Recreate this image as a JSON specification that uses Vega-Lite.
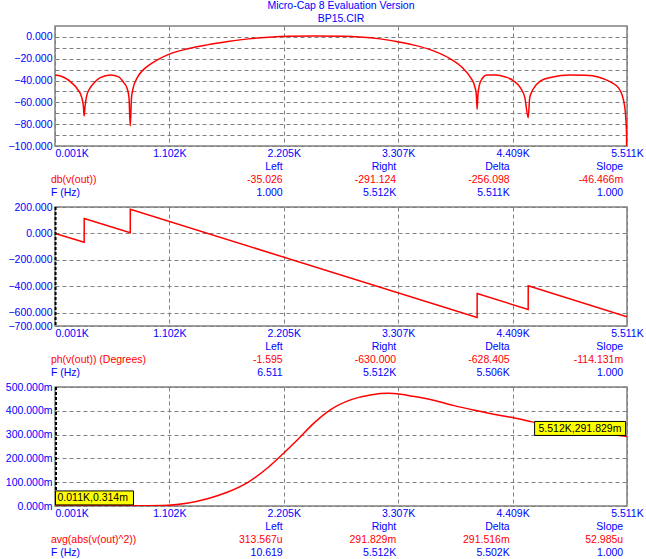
{
  "$schema": "https://vega.github.io/schema/vega-lite/v6.json",
  "background": "white",
  "padding": {"left": 4, "top": 0, "right": 0, "bottom": 0},
  "bounds": "flush",
  "spacing": 0,
  "resolve": {"scale": {"x": "independent", "y": "independent", "color": "independent"}},
  "config": {
    "font": "Liberation Sans",
    "view": {"stroke": null},
    "axis": {"labelFont": "Liberation Sans", "labelFontSize": 10.5, "labelColor": "#0000FF", "domain": false, "ticks": false, "tickSize": 0, "gridColor": "#808080", "gridDash": [4, 3], "gridWidth": 1, "gridOpacity": 1, "labelPadding": 3, "labelOverlap": false, "labelFlush": false},
    "axisX": {"labelPadding": 2},
    "text": {"font": "Liberation Sans", "fontSize": 10.5}
  },
  "datasets": {
    "mag": [
      {"F": 1, "dB": -35.026}, {"F": 80, "dB": -36.7}, {"F": 160, "dB": -41.9}, {"F": 219, "dB": -48}, {"F": 259, "dB": -55.7}, {"F": 275, "dB": -64}, {"F": 282, "dB": -72.5}, {"F": 290, "dB": -64}, {"F": 306, "dB": -54}, {"F": 338, "dB": -47}, {"F": 378, "dB": -42}, {"F": 437, "dB": -37.3}, {"F": 536, "dB": -34.9}, {"F": 615, "dB": -36.7}, {"F": 663, "dB": -41.9}, {"F": 695, "dB": -47}, {"F": 714, "dB": -55.7}, {"F": 726, "dB": -81.6}, {"F": 738, "dB": -55.7}, {"F": 754, "dB": -47}, {"F": 794, "dB": -37.3}, {"F": 853, "dB": -30}, {"F": 913, "dB": -25.5}, {"F": 992, "dB": -20.8}, {"F": 1091, "dB": -16.2}, {"F": 1270, "dB": -11.1}, {"F": 1468, "dB": -7.3}, {"F": 1666, "dB": -4.3}, {"F": 1864, "dB": -1.8}, {"F": 2062, "dB": -0.3}, {"F": 2260, "dB": 0.6}, {"F": 2498, "dB": 0.9}, {"F": 2776, "dB": 0.6}, {"F": 2934, "dB": 0}, {"F": 3133, "dB": -1.8}, {"F": 3291, "dB": -4.3}, {"F": 3450, "dB": -7.3}, {"F": 3648, "dB": -12.8}, {"F": 3806, "dB": -19.9}, {"F": 3925, "dB": -28.1}, {"F": 4005, "dB": -37.3}, {"F": 4044, "dB": -45}, {"F": 4060, "dB": -52.6}, {"F": 4068, "dB": -66.4}, {"F": 4076, "dB": -52.6}, {"F": 4103, "dB": -40.4}, {"F": 4163, "dB": -34.9}, {"F": 4242, "dB": -34.9}, {"F": 4341, "dB": -36.7}, {"F": 4421, "dB": -40.4}, {"F": 4488, "dB": -47}, {"F": 4528, "dB": -55.7}, {"F": 4560, "dB": -74}, {"F": 4575, "dB": -55.7}, {"F": 4607, "dB": -48}, {"F": 4678, "dB": -40.4}, {"F": 4797, "dB": -36.7}, {"F": 4956, "dB": -34.9}, {"F": 5114, "dB": -35.2}, {"F": 5234, "dB": -36.7}, {"F": 5352, "dB": -41.3}, {"F": 5432, "dB": -47}, {"F": 5480, "dB": -58.7}, {"F": 5500, "dB": -74}, {"F": 5508, "dB": -90}, {"F": 5512, "dB": -291.124}
    ],
    "phase": [
      {"F": 1, "deg": -0.2}, {"F": 282, "deg": -67}, {"F": 282.5, "deg": 112}, {"F": 726, "deg": 6}, {"F": 726.5, "deg": 182}, {"F": 4068, "deg": -635}, {"F": 4068.5, "deg": -455}, {"F": 4560, "deg": -575}, {"F": 4560.5, "deg": -395}, {"F": 5512, "deg": -630}
    ],
    "avg": [
      {"F": 1, "v": 0}, {"F": 10.619, "v": 0.000314}, {"F": 500, "v": 0.0003}, {"F": 800, "v": 0.0008}, {"F": 1091, "v": 0.0028}, {"F": 1270, "v": 0.0112}, {"F": 1468, "v": 0.0307}, {"F": 1666, "v": 0.0587}, {"F": 1864, "v": 0.1006}, {"F": 2062, "v": 0.1648}, {"F": 2201, "v": 0.2207}, {"F": 2340, "v": 0.2793}, {"F": 2498, "v": 0.3492}, {"F": 2657, "v": 0.405}, {"F": 2855, "v": 0.4469}, {"F": 3053, "v": 0.4679}, {"F": 3212, "v": 0.4735}, {"F": 3331, "v": 0.4693}, {"F": 3450, "v": 0.4609}, {"F": 3648, "v": 0.4441}, {"F": 3846, "v": 0.4218}, {"F": 4044, "v": 0.4022}, {"F": 4242, "v": 0.3841}, {"F": 4441, "v": 0.3687}, {"F": 4599, "v": 0.3534}, {"F": 5512, "v": 0.291829}
    ],
    "cursors": [
      {"panel": 2, "F": 6.511}, {"panel": 3, "F": 10.619}
    ],
    "notes": [
      {"side": "left", "F": 10.619, "v": 0.000314, "label": "0.011K,0.314m"},
      {"side": "right", "F": 5512, "v": 0.291829, "label": "5.512K,291.829m"}
    ],
    "tables": [
      {"panel": 1, "row": "header", "col": "Left", "text": "Left"},
      {"panel": 1, "row": "header", "col": "Right", "text": "Right"},
      {"panel": 1, "row": "header", "col": "Delta", "text": "Delta"},
      {"panel": 1, "row": "header", "col": "Slope", "text": "Slope"},
      {"panel": 1, "row": "expr", "col": "name", "text": "db(v(out))"},
      {"panel": 1, "row": "expr", "col": "Left", "text": "-35.026"},
      {"panel": 1, "row": "expr", "col": "Right", "text": "-291.124"},
      {"panel": 1, "row": "expr", "col": "Delta", "text": "-256.098"},
      {"panel": 1, "row": "expr", "col": "Slope", "text": "-46.466m"},
      {"panel": 1, "row": "freq", "col": "name", "text": "F (Hz)"},
      {"panel": 1, "row": "freq", "col": "Left", "text": "1.000"},
      {"panel": 1, "row": "freq", "col": "Right", "text": "5.512K"},
      {"panel": 1, "row": "freq", "col": "Delta", "text": "5.511K"},
      {"panel": 1, "row": "freq", "col": "Slope", "text": "1.000"},
      {"panel": 2, "row": "header", "col": "Left", "text": "Left"},
      {"panel": 2, "row": "header", "col": "Right", "text": "Right"},
      {"panel": 2, "row": "header", "col": "Delta", "text": "Delta"},
      {"panel": 2, "row": "header", "col": "Slope", "text": "Slope"},
      {"panel": 2, "row": "expr", "col": "name", "text": "ph(v(out)) (Degrees)"},
      {"panel": 2, "row": "expr", "col": "Left", "text": "-1.595"},
      {"panel": 2, "row": "expr", "col": "Right", "text": "-630.000"},
      {"panel": 2, "row": "expr", "col": "Delta", "text": "-628.405"},
      {"panel": 2, "row": "expr", "col": "Slope", "text": "-114.131m"},
      {"panel": 2, "row": "freq", "col": "name", "text": "F (Hz)"},
      {"panel": 2, "row": "freq", "col": "Left", "text": "6.511"},
      {"panel": 2, "row": "freq", "col": "Right", "text": "5.512K"},
      {"panel": 2, "row": "freq", "col": "Delta", "text": "5.506K"},
      {"panel": 2, "row": "freq", "col": "Slope", "text": "1.000"},
      {"panel": 3, "row": "header", "col": "Left", "text": "Left"},
      {"panel": 3, "row": "header", "col": "Right", "text": "Right"},
      {"panel": 3, "row": "header", "col": "Delta", "text": "Delta"},
      {"panel": 3, "row": "header", "col": "Slope", "text": "Slope"},
      {"panel": 3, "row": "expr", "col": "name", "text": "avg(abs(v(out)^2))"},
      {"panel": 3, "row": "expr", "col": "Left", "text": "313.567u"},
      {"panel": 3, "row": "expr", "col": "Right", "text": "291.829m"},
      {"panel": 3, "row": "expr", "col": "Delta", "text": "291.516m"},
      {"panel": 3, "row": "expr", "col": "Slope", "text": "52.985u"},
      {"panel": 3, "row": "freq", "col": "name", "text": "F (Hz)"},
      {"panel": 3, "row": "freq", "col": "Left", "text": "10.619"},
      {"panel": 3, "row": "freq", "col": "Right", "text": "5.512K"},
      {"panel": 3, "row": "freq", "col": "Delta", "text": "5.502K"},
      {"panel": 3, "row": "freq", "col": "Slope", "text": "1.000"}
    ]
  },
  "vconcat": [
    {
      "width": 572, "height": 120,
      "view": {"stroke": "#808080", "strokeWidth": 1.5},
      "title": {"text": "Micro-Cap 8 Evaluation Version", "subtitle": "BP15.CIR", "color": "#0000FF", "subtitleColor": "#0000FF", "font": "Liberation Sans", "subtitleFont": "Liberation Sans", "fontSize": 10.5, "subtitleFontSize": 10.5, "fontWeight": "normal", "anchor": "middle", "frame": "group", "offset": 2, "subtitlePadding": 2},
      "data": {"name": "mag"},
      "mark": {"type": "line", "color": "#FF0000", "strokeWidth": 1.5, "clip": true, "interpolate": "monotone"},
      "encoding": {
        "x": {"field": "F", "type": "quantitative", "scale": {"domain": [1, 5512], "nice": false, "zero": false},
              "axis": {"title": null, "values": [1, 1102, 2205, 3307, 4409, 5511], "labelExpr": "format(datum.value/1000, '.3f') + 'K'", "grid": true, "labelAlign": {"condition": {"test": "datum.value < 100", "value": "left"}, "value": "center"}}},
        "y": {"field": "dB", "type": "quantitative", "scale": {"domain": [-100, 10], "nice": false, "zero": false},
              "axis": {"title": null, "values": [-100, -90, -80, -70, -60, -50, -40, -30, -20, -10, 0], "labelExpr": "datum.value % 20 === 0 ? format(datum.value, '.3f') : ''", "grid": true}}
      }
    },
    {
      "width": 572, "height": 61,
      "data": {"name": "tables"},
      "transform": [{"filter": "datum.panel === 1"}],
      "encoding": {
        "x": {"field": "col", "type": "nominal", "scale": {"type": "point", "domain": ["name", "gap", "Left", "Right", "Delta", "Slope"], "range": [0.7, 568.2], "padding": 0}, "axis": null},
        "y": {"field": "row", "type": "nominal", "scale": {"type": "point", "domain": ["header", "expr", "freq"], "range": [21, 47], "padding": 0}, "axis": null},
        "color": {"field": "row", "type": "nominal", "scale": {"domain": ["header", "expr", "freq"], "range": ["#0000FF", "#FF0000", "#0000FF"]}, "legend": null},
        "text": {"field": "text", "type": "nominal"}
      },
      "layer": [
        {"transform": [{"filter": "datum.col === 'name'"}], "mark": {"type": "text", "align": "left", "baseline": "middle", "dx": -4.8}},
        {"transform": [{"filter": "datum.col !== 'name'"}], "mark": {"type": "text", "align": "right", "baseline": "middle"}}
      ]
    },
    {
      "width": 572, "height": 119,
      "view": {"stroke": "#808080", "strokeWidth": 1.5},
      "encoding": {
        "x": {"field": "F", "type": "quantitative", "scale": {"domain": [1, 5512], "nice": false, "zero": false},
              "axis": {"title": null, "values": [1, 1102, 2205, 3307, 4409, 5511], "labelExpr": "format(datum.value/1000, '.3f') + 'K'", "grid": true, "labelAlign": {"condition": {"test": "datum.value < 100", "value": "left"}, "value": "center"}}}
      },
      "layer": [
        {
          "data": {"name": "phase"},
          "mark": {"type": "line", "color": "#FF0000", "strokeWidth": 1.5, "clip": true},
          "encoding": {
            "y": {"field": "deg", "type": "quantitative", "scale": {"domain": [-700, 200], "nice": false, "zero": false},
                  "axis": {"title": null, "values": [-700, -600, -400, -200, 0, 200], "format": ".3f", "grid": true}}
          }
        },
        {
          "data": {"name": "cursors"},
          "transform": [{"filter": "datum.panel === 2"}],
          "mark": {"type": "rule", "color": "#000000", "strokeWidth": 2, "strokeDash": [3, 2]},
          "encoding": {}
        }
      ]
    },
    {
      "width": 572, "height": 61,
      "data": {"name": "tables"},
      "transform": [{"filter": "datum.panel === 2"}],
      "encoding": {
        "x": {"field": "col", "type": "nominal", "scale": {"type": "point", "domain": ["name", "gap", "Left", "Right", "Delta", "Slope"], "range": [0.7, 568.2], "padding": 0}, "axis": null},
        "y": {"field": "row", "type": "nominal", "scale": {"type": "point", "domain": ["header", "expr", "freq"], "range": [21, 47], "padding": 0}, "axis": null},
        "color": {"field": "row", "type": "nominal", "scale": {"domain": ["header", "expr", "freq"], "range": ["#0000FF", "#FF0000", "#0000FF"]}, "legend": null},
        "text": {"field": "text", "type": "nominal"}
      },
      "layer": [
        {"transform": [{"filter": "datum.col === 'name'"}], "mark": {"type": "text", "align": "left", "baseline": "middle", "dx": -4.8}},
        {"transform": [{"filter": "datum.col !== 'name'"}], "mark": {"type": "text", "align": "right", "baseline": "middle"}}
      ]
    },
    {
      "width": 572, "height": 119,
      "view": {"stroke": "#808080", "strokeWidth": 1.5},
      "encoding": {
        "x": {"field": "F", "type": "quantitative", "scale": {"domain": [1, 5512], "nice": false, "zero": false},
              "axis": {"title": null, "values": [1, 1102, 2205, 3307, 4409, 5511], "labelExpr": "format(datum.value/1000, '.3f') + 'K'", "grid": true, "labelAlign": {"condition": {"test": "datum.value < 100", "value": "left"}, "value": "center"}}},
        "y": {"field": "v", "type": "quantitative", "scale": {"domain": [0, 0.5], "nice": false, "zero": false},
              "axis": {"title": null, "values": [0, 0.1, 0.2, 0.3, 0.4, 0.5], "labelExpr": "format(datum.value*1000, '.3f') + 'm'", "grid": true}}
      },
      "layer": [
        {
          "data": {"name": "avg"},
          "mark": {"type": "line", "color": "#FF0000", "strokeWidth": 1.5, "clip": true, "interpolate": "monotone"}
        },
        {
          "data": {"name": "cursors"},
          "transform": [{"filter": "datum.panel === 3"}],
          "mark": {"type": "rule", "color": "#000000", "strokeWidth": 2, "strokeDash": [3, 2]},
          "encoding": {"y": null}
        },
        {
          "data": {"name": "notes"},
          "transform": [{"filter": "datum.side === 'left'"}],
          "mark": {"type": "rect", "fill": "#FFFF00", "stroke": "#000000", "strokeWidth": 1, "width": 78, "height": 14, "xOffset": 38.5, "yOffset": -8}
        },
        {
          "data": {"name": "notes"},
          "transform": [{"filter": "datum.side === 'right'"}],
          "mark": {"type": "rect", "fill": "#FFFF00", "stroke": "#000000", "strokeWidth": 1, "width": 91, "height": 14, "xOffset": -46.9, "yOffset": -8.1}
        },
        {
          "data": {"name": "notes"},
          "transform": [{"filter": "datum.side === 'left'"}],
          "mark": {"type": "text", "align": "left", "baseline": "middle", "dx": 1.5, "dy": -8, "color": "#000000"},
          "encoding": {"text": {"field": "label", "type": "nominal"}}
        },
        {
          "data": {"name": "notes"},
          "transform": [{"filter": "datum.side === 'right'"}],
          "mark": {"type": "text", "align": "right", "baseline": "middle", "dx": -5.6, "dy": -8, "color": "#000000"},
          "encoding": {"text": {"field": "label", "type": "nominal"}}
        }
      ]
    },
    {
      "width": 572, "height": 54,
      "data": {"name": "tables"},
      "transform": [{"filter": "datum.panel === 3"}],
      "encoding": {
        "x": {"field": "col", "type": "nominal", "scale": {"type": "point", "domain": ["name", "gap", "Left", "Right", "Delta", "Slope"], "range": [0.7, 568.2], "padding": 0}, "axis": null},
        "y": {"field": "row", "type": "nominal", "scale": {"type": "point", "domain": ["header", "expr", "freq"], "range": [21, 47], "padding": 0}, "axis": null},
        "color": {"field": "row", "type": "nominal", "scale": {"domain": ["header", "expr", "freq"], "range": ["#0000FF", "#FF0000", "#0000FF"]}, "legend": null},
        "text": {"field": "text", "type": "nominal"}
      },
      "layer": [
        {"transform": [{"filter": "datum.col === 'name'"}], "mark": {"type": "text", "align": "left", "baseline": "middle", "dx": -4.8}},
        {"transform": [{"filter": "datum.col !== 'name'"}], "mark": {"type": "text", "align": "right", "baseline": "middle"}}
      ]
    }
  ]
}
